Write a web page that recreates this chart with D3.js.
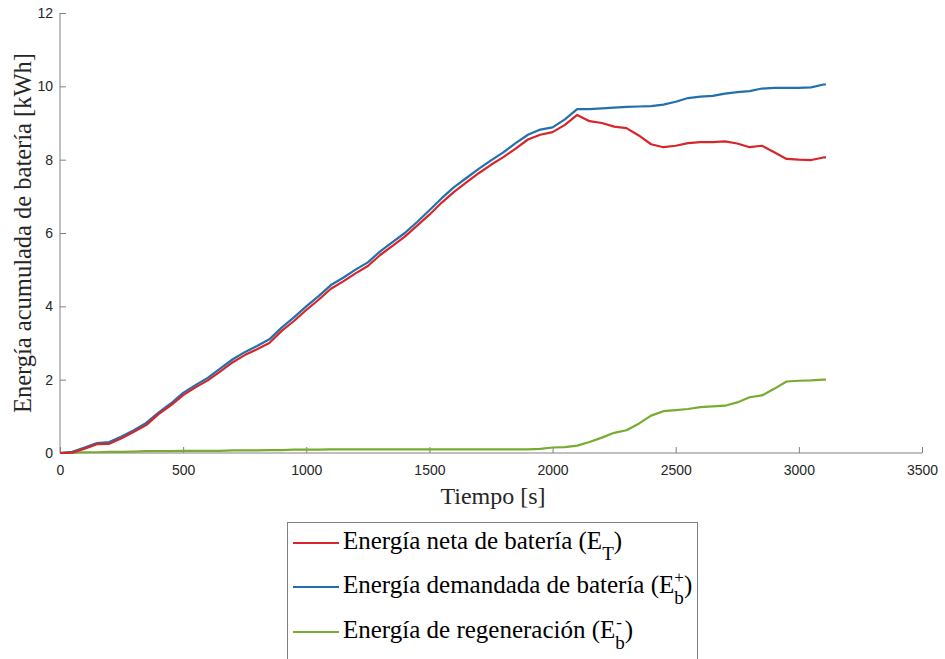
<!DOCTYPE html>
<html>
<head>
<meta charset="utf-8">
<script src="https://cdn.jsdelivr.net/npm/d3@7"></script>
<style>
  html, body { margin: 0; padding: 0; background: #fff; }
  svg { display: block; }
</style>
</head>
<body>
<svg id="chart" width="945" height="659"></svg>
<script>
// Sample times [s]
const tiempo = [0,50,100,150,200,250,300,350,400,450,500,550,600,650,700,750,800,850,900,950,
  1000,1050,1100,1150,1200,1250,1300,1350,1400,1450,1500,1550,1600,1650,1700,1750,1800,1850,1900,1950,
  2000,2050,2100,2150,2200,2250,2300,2350,2400,2450,2500,2550,2600,2650,2700,2750,2800,2850,2900,2950,
  3000,3050,3100,3110];

// Net battery energy E_T [kWh]
const energiaNeta = [0,0.01,0.12,0.24,0.25,0.40,0.58,0.76,1.06,1.30,1.58,1.79,1.98,2.22,2.47,2.67,2.83,3.00,3.33,3.60,
  3.90,4.18,4.48,4.68,4.90,5.10,5.40,5.65,5.90,6.20,6.50,6.83,7.12,7.38,7.63,7.86,8.07,8.30,8.55,8.68,
  8.75,8.95,9.22,9.05,9.00,8.90,8.86,8.66,8.42,8.34,8.38,8.45,8.48,8.48,8.50,8.44,8.34,8.38,8.20,8.02,
  8.00,7.99,8.06,8.06];

// Battery energy demanded E_b+ [kWh]
const energiaDemandada = [0,0.03,0.15,0.27,0.30,0.45,0.62,0.82,1.10,1.35,1.64,1.85,2.05,2.30,2.55,2.75,2.92,3.10,3.42,3.70,
  4.00,4.28,4.58,4.78,5.00,5.20,5.50,5.75,6.00,6.30,6.62,6.95,7.25,7.50,7.75,7.98,8.20,8.45,8.68,8.82,
  8.88,9.10,9.38,9.38,9.40,9.42,9.44,9.45,9.46,9.50,9.58,9.68,9.72,9.74,9.80,9.84,9.87,9.94,9.96,9.96,
  9.96,9.97,10.05,10.05];

// Regenerated energy E_b- [kWh]
const energiaRegeneracion = [0,0.01,0.02,0.02,0.03,0.03,0.04,0.05,0.05,0.05,0.06,0.06,0.06,0.06,0.07,0.07,0.07,0.08,0.08,0.09,
  0.09,0.09,0.10,0.10,0.10,0.10,0.10,0.10,0.10,0.10,0.10,0.10,0.10,0.10,0.10,0.10,0.10,0.10,0.10,0.11,
  0.15,0.16,0.20,0.30,0.42,0.55,0.62,0.80,1.02,1.14,1.17,1.20,1.25,1.27,1.29,1.38,1.52,1.57,1.75,1.95,
  1.97,1.98,2.00,2.00];

const xTicks = [0,500,1000,1500,2000,2500,3000,3500];
const yTicks = [0,2,4,6,8,10,12];

const series = [
  { name: "neta", values: energiaNeta, color: "#D7262B" },
  { name: "demandada", values: energiaDemandada, color: "#2270AC" },
  { name: "regeneracion", values: energiaRegeneracion, color: "#77AC30" }
];

const svg = d3.select("#chart");
const plot = { left: 60, right: 922, top: 13, bottom: 453 };

const x = d3.scaleLinear().domain([0, 3500]).range([plot.left, plot.right]);
const y = d3.scaleLinear().domain([0, 12]).range([plot.bottom, plot.top]);

const axisColor = "#808080";
const tickFont = "'Liberation Sans', Arial, sans-serif";
const serif = "'Liberation Serif', 'Times New Roman', serif";

// X axis: ticks pointing inward
const gx = svg.append("g")
  .attr("transform", `translate(0,${plot.bottom})`)
  .call(d3.axisBottom(x).tickValues(xTicks).tickSize(-6).tickPadding(12).tickFormat(d3.format("d")));
gx.select(".domain").attr("stroke", axisColor).attr("d", `M${plot.left},0H${plot.right}`);
gx.selectAll(".tick line").attr("stroke", axisColor);
gx.selectAll(".tick text").attr("fill", "#262626").style("font-family", tickFont).style("font-size", "14px");

// Y axis
const gy = svg.append("g")
  .attr("transform", `translate(${plot.left},0)`)
  .call(d3.axisLeft(y).tickValues(yTicks).tickSize(-6).tickPadding(7).tickFormat(d3.format("d")));
gy.select(".domain").attr("stroke", axisColor).attr("d", `M0,${plot.top}V${plot.bottom}`);
gy.selectAll(".tick line").attr("stroke", axisColor);
gy.selectAll(".tick text").attr("fill", "#262626").style("font-family", tickFont).style("font-size", "14px");

// Lines (green drawn first so the red and blue curves sit on top)
const line = d3.line().x((d, i) => x(tiempo[i])).y(d => y(d));
[series[2], series[1], series[0]].forEach(s => {
  svg.append("path")
    .datum(s.values)
    .attr("fill", "none")
    .attr("stroke", s.color)
    .attr("stroke-width", 2.2)
    .attr("stroke-linejoin", "round")
    .attr("d", line);
});

// Axis labels
svg.append("text")
  .attr("x", (plot.left + plot.right) / 2 + 2)
  .attr("y", 504)
  .attr("text-anchor", "middle")
  .attr("fill", "#262626")
  .style("font-family", serif)
  .style("font-size", "24px")
  .text("Tiempo [s]");

svg.append("text")
  .attr("transform", `translate(31,${(plot.top + plot.bottom) / 2}) rotate(-90)`)
  .attr("text-anchor", "middle")
  .attr("fill", "#262626")
  .style("font-family", serif)
  .style("font-size", "24.5px")
  .text("Energía acumulada de batería [kWh]");

// Legend
const legend = svg.append("g");
legend.append("rect")
  .attr("x", 287.5).attr("y", 522.5)
  .attr("width", 410).attr("height", 160)
  .attr("fill", "#fff")
  .attr("stroke", "#808080")
  .attr("stroke-width", 1);

const legendRows = [
  { color: series[0].color, text: "Energía neta de batería (E", sub: "T", sup: null, y: 543 },
  { color: series[1].color, text: "Energía demandada de batería (E", sub: "b", sup: "+", y: 587 },
  { color: series[2].color, text: "Energía de regeneración (E", sub: "b", sup: "-", y: 632 }
];

const textX = 343;
legendRows.forEach(r => {
  legend.append("line")
    .attr("x1", 293).attr("x2", 339)
    .attr("y1", r.y).attr("y2", r.y)
    .attr("stroke", r.color).attr("stroke-width", 2);
  const base = r.y + 6;
  const main = legend.append("text")
    .attr("x", textX).attr("y", base)
    .attr("fill", "#000")
    .style("font-family", serif)
    .style("font-size", "25px")
    .text(r.text);
  const mainLen = main.node().getComputedTextLength();
  const subX = textX + mainLen;
  const sub = legend.append("text")
    .attr("x", subX).attr("y", base + 11)
    .attr("fill", "#000")
    .style("font-family", serif)
    .style("font-size", "19px")
    .text(r.sub);
  let w = sub.node().getComputedTextLength();
  if (r.sup) {
    const sup = legend.append("text")
      .attr("x", subX + (r.sup === "-" ? 1 : 0)).attr("y", base - 10)
      .attr("fill", "#000")
      .style("font-family", serif)
      .style("font-size", "17px")
      .text(r.sup);
    w = Math.max(w, sup.node().getComputedTextLength());
  }
  legend.append("text")
    .attr("x", subX + w).attr("y", base)
    .attr("fill", "#000")
    .style("font-family", serif)
    .style("font-size", "25px")
    .text(")");
});
</script>
</body>
</html>
